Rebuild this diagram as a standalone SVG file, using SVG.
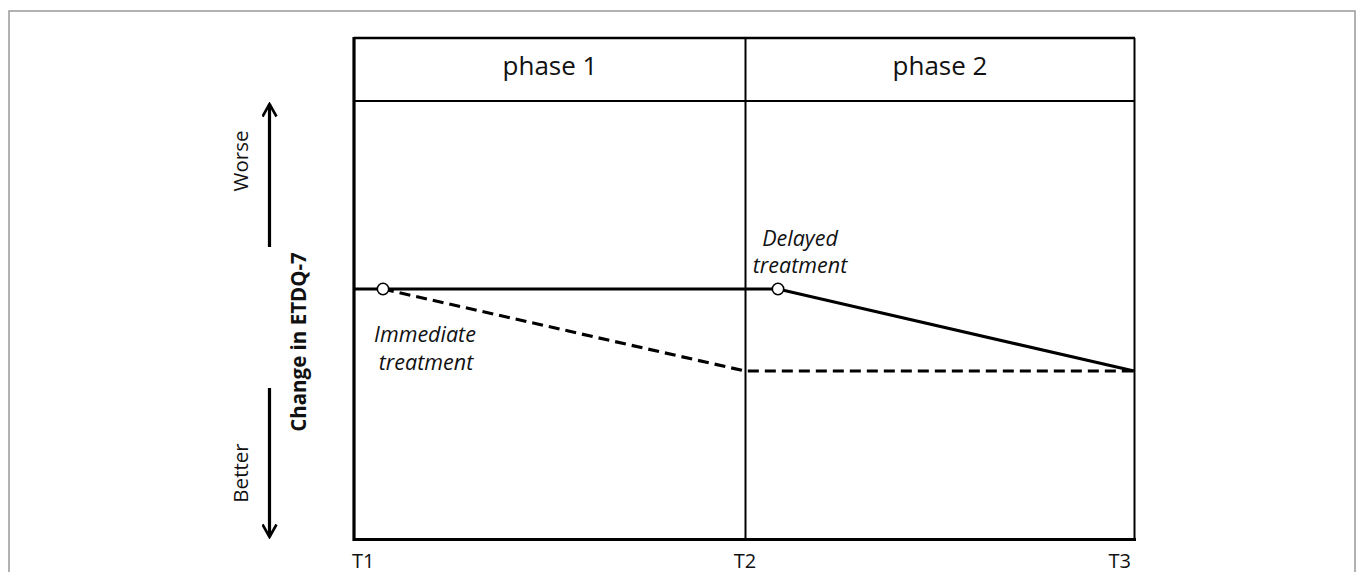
<svg xmlns="http://www.w3.org/2000/svg" width="1357" height="572" viewBox="0 0 1357 572">
<style>
.t{font-family:"Open Sans","Liberation Sans",sans-serif;fill:#111}
.ph{font-size:26px}
.tk{font-size:20px}
.lab{font-size:21.5px;font-style:italic}
.ax{font-size:20.5px;font-weight:bold}
.dir{font-size:20.5px}
.frame{fill:none;stroke:#000}
.solid{fill:none;stroke:#000;stroke-width:3.2}
.dash{fill:none;stroke:#000;stroke-width:3.2;stroke-dasharray:11 6}
.pt{fill:#fff;stroke:#000;stroke-width:1.6}
</style>
<defs>
<marker id="ah" viewBox="0 0 16 16" refX="14" refY="8" markerWidth="16" markerHeight="16" markerUnits="userSpaceOnUse" orient="auto">
<path d="M1.5,1 L14,8 L1.5,15" fill="none" stroke="#000" stroke-width="2.6"/>
</marker>
</defs>
<rect x="9" y="11" width="1346" height="600" fill="none" stroke="#999" stroke-width="1.5"/>
<g id="chart-frame">
<line class="frame" x1="354" y1="38" x2="1135" y2="38" stroke-width="2.5"/>
<line class="frame" x1="354" y1="101" x2="1135" y2="101" stroke-width="2"/>
<line class="frame" x1="745.5" y1="38" x2="745.5" y2="539" stroke-width="2"/>
<line class="frame" x1="1134.5" y1="38" x2="1134.5" y2="540" stroke-width="2"/>
<path class="frame" d="M354,37 L354,539.5 L1136,539.5" stroke-width="3.2"/>
</g>
<g id="phase1"><text class="t ph" x="550" y="75" text-anchor="middle">phase 1</text></g>
<g id="phase2"><text class="t ph" x="940" y="75" text-anchor="middle">phase 2</text></g>
<g id="ticks">
<text class="t tk" x="352" y="568">T1</text>
<text class="t tk" x="745" y="568" text-anchor="middle">T2</text>
<text class="t tk" x="1131" y="568" text-anchor="end">T3</text>
</g>
<g id="y-axis">
<text class="t ax" transform="translate(306,342) rotate(-90)" text-anchor="middle">Change in ETDQ-7</text>
<text class="t dir" transform="translate(248,161) rotate(-90)" text-anchor="middle">Worse</text>
<text class="t dir" transform="translate(248,473) rotate(-90)" text-anchor="middle">Better</text>
</g>
<g id="connectors">
<line x1="269.5" y1="247" x2="269.5" y2="104" stroke="#000" stroke-width="3.2" marker-end="url(#ah)"/>
<line x1="269.5" y1="388" x2="269.5" y2="537" stroke="#000" stroke-width="3.2" marker-end="url(#ah)"/>
<polyline class="dash" points="383,289 745,371 1134,371"/>
<polyline class="solid" points="354,289 778,289 1134,371"/>
</g>
<g id="immediate">
<circle class="pt" cx="383" cy="289" r="5.7"/>
<text class="t lab" x="425" y="342" text-anchor="middle">Immediate</text>
<text class="t lab" x="426" y="370" text-anchor="middle">treatment</text>
</g>
<g id="delayed">
<circle class="pt" cx="778" cy="289" r="5.7"/>
<text class="t lab" x="800" y="246" text-anchor="middle">Delayed</text>
<text class="t lab" x="800" y="273" text-anchor="middle">treatment</text>
</g>
</svg>
